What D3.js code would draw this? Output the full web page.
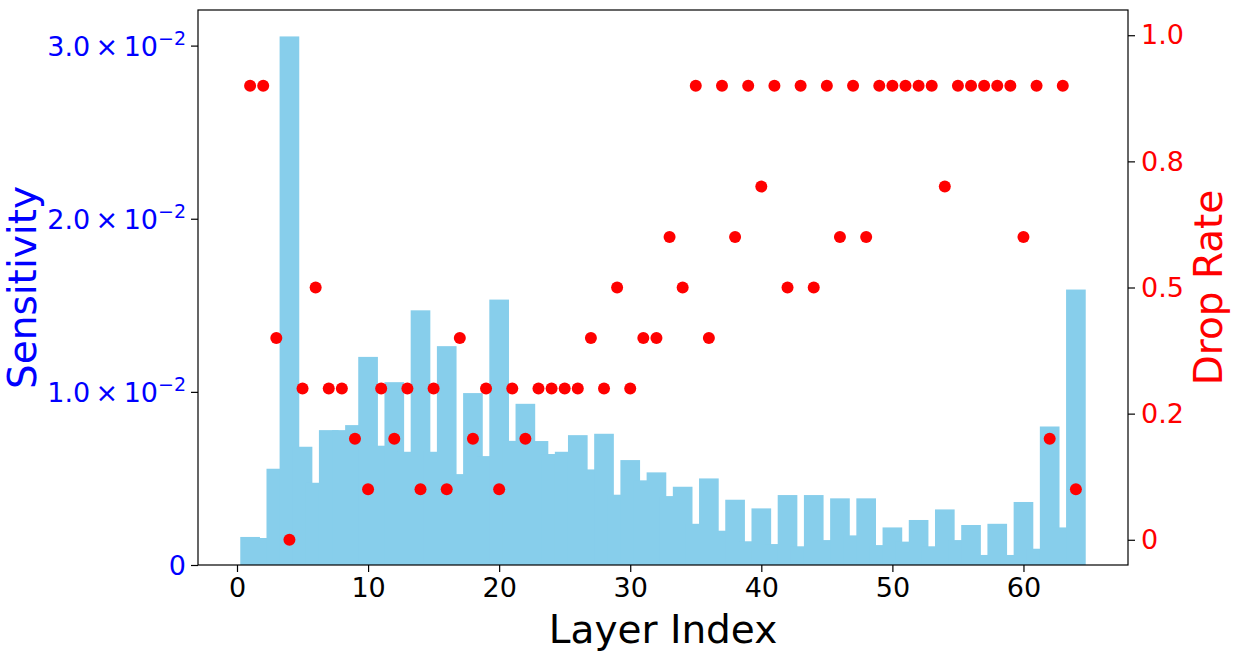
<!DOCTYPE html>
<html>
<head>
<meta charset="utf-8">
<script src="https://cdn.jsdelivr.net/npm/d3@7"></script>
<style>
  html, body { margin: 0; padding: 0; background: #fff; }
  svg { display: block; font-family: "DejaVu Sans", sans-serif; }
</style>
</head>
<body>
<svg id="chart" width="1235" height="659"></svg>
<script>
// Layer indices 1..64
const LAYERS = d3.range(1, 65);

// Sensitivity per layer
const SENSITIVITY = [
  0.00162, 0.00156, 0.00556, 0.03053, 0.00683, 0.00475, 0.00779, 0.00779,
  0.00808, 0.01202, 0.00689, 0.01056, 0.00654, 0.01471, 0.00654, 0.01264,
  0.00525, 0.00993, 0.00629, 0.01533, 0.00717, 0.00931, 0.00716, 0.00641,
  0.00654, 0.00750, 0.00552, 0.00758, 0.00406, 0.00606, 0.00489, 0.00535,
  0.00398, 0.00452, 0.00238, 0.00500, 0.00198, 0.00377, 0.00137, 0.00327,
  0.00121, 0.00404, 0.00108, 0.00404, 0.00144, 0.00385, 0.00171, 0.00385,
  0.00115, 0.00217, 0.00135, 0.00260, 0.00108, 0.00321, 0.00144, 0.00231,
  0.00058, 0.00238, 0.00058, 0.00364, 0.00094, 0.00800, 0.00217, 0.01591
];

// Drop rate per layer
const DROP_RATE = [
  0.9, 0.9, 0.4, 0.0, 0.3, 0.5, 0.3, 0.3,
  0.2, 0.1, 0.3, 0.2, 0.3, 0.1, 0.3, 0.1,
  0.4, 0.2, 0.3, 0.1, 0.3, 0.2, 0.3, 0.3,
  0.3, 0.3, 0.4, 0.3, 0.5, 0.3, 0.4, 0.4,
  0.6, 0.5, 0.9, 0.4, 0.9, 0.6, 0.9, 0.7,
  0.9, 0.5, 0.9, 0.5, 0.9, 0.6, 0.9, 0.6,
  0.9, 0.9, 0.9, 0.9, 0.9, 0.7, 0.9, 0.9,
  0.9, 0.9, 0.9, 0.6, 0.9, 0.2, 0.9, 0.1
];

// Tick values and labels
const X_TICKS = [0, 10, 20, 30, 40, 50, 60];
const LEFT_TICKS = [0, 0.01, 0.02, 0.03];
const LEFT_MANTISSA = ["0", "1.0", "2.0", "3.0"];
const RIGHT_TICKS = [0, 0.25, 0.5, 0.75, 1.0];
const RIGHT_LABELS = ["0", "0.2", "0.5", "0.8", "1.0"];

const BAR_WIDTH = 1.5;   // in layer units, bars overlap
const BAR_COLOR = "#87ceeb";
const DOT_COLOR = "#ff0000";
const SENS_COLOR = "#0000ff";

const plot = { left: 198, right: 1128, top: 10, bottom: 565 };
const tickFont = 27;
const labelFont = 39;

const svg = d3.select("#chart");
svg.append("rect").attr("width", 1235).attr("height", 659).attr("fill", "#fff");

// Scales
const xMin = 1 - BAR_WIDTH / 2, xMax = 64 + BAR_WIDTH / 2;
const xPad = (xMax - xMin) * 0.05;
const x = d3.scaleLinear()
  .domain([xMin - xPad, xMax + xPad])
  .range([plot.left, plot.right]);

const yLeft = d3.scaleLinear()
  .domain([0, d3.max(SENSITIVITY) * 1.05])
  .range([plot.bottom, plot.top]);

const yRight = d3.scaleLinear()
  .domain([-0.05, 1.05])
  .range([plot.bottom, plot.top]);

// Bars (drawn in order, same colour, so the outline is the union)
svg.append("g")
  .selectAll("rect")
  .data(LAYERS)
  .join("rect")
  .attr("x", (d) => x(d - BAR_WIDTH / 2))
  .attr("width", (d) => x(d + BAR_WIDTH / 2) - x(d - BAR_WIDTH / 2))
  .attr("y", (d, i) => yLeft(SENSITIVITY[i]))
  .attr("height", (d, i) => yLeft(0) - yLeft(SENSITIVITY[i]))
  .attr("fill", BAR_COLOR);

// Drop-rate dots
svg.append("g")
  .selectAll("circle")
  .data(LAYERS)
  .join("circle")
  .attr("cx", (d) => x(d))
  .attr("cy", (d, i) => yRight(DROP_RATE[i]))
  .attr("r", 6)
  .attr("fill", DOT_COLOR);

// Frame
svg.append("rect")
  .attr("x", plot.left)
  .attr("y", plot.top)
  .attr("width", plot.right - plot.left)
  .attr("height", plot.bottom - plot.top)
  .attr("fill", "none")
  .attr("stroke", "#000")
  .attr("stroke-width", 1.2);

// Bottom axis
const xAxis = svg.append("g")
  .attr("transform", `translate(0,${plot.bottom})`)
  .call(d3.axisBottom(x).tickValues(X_TICKS).tickFormat(d3.format("d")).tickSize(7).tickPadding(6))
  .call((g) => g.select(".domain").remove());
xAxis.selectAll(".tick line").attr("stroke", "#000").attr("stroke-width", 1.2);
xAxis.selectAll(".tick text")
  .attr("fill", "#000")
  .attr("font-size", tickFont)
  .attr("font-family", "DejaVu Sans");

// Left axis, mathtext-like labels
const leftAxis = svg.append("g")
  .attr("transform", `translate(${plot.left},0)`)
  .call(d3.axisLeft(yLeft).tickValues(LEFT_TICKS).tickFormat("").tickSize(7))
  .call((g) => g.select(".domain").remove());
leftAxis.selectAll(".tick line").attr("stroke", "#000").attr("stroke-width", 1.2);
leftAxis.selectAll(".tick").each(function (d, i) {
  const t = d3.select(this).append("text")
    .attr("x", -12)
    .attr("dy", "0.35em")
    .attr("text-anchor", "end")
    .attr("fill", SENS_COLOR)
    .attr("font-size", tickFont)
    .attr("font-family", "DejaVu Sans");
  if (d === 0) {
    t.text(LEFT_MANTISSA[i]);
  } else {
    t.append("tspan").text(LEFT_MANTISSA[i] + "\u2009\u00d7\u200910");
    t.append("tspan")
      .attr("dy", -11)
      .attr("font-size", 19)
      .text("\u22122");
  }
});

// Right axis
const rightAxis = svg.append("g")
  .attr("transform", `translate(${plot.right},0)`)
  .call(d3.axisRight(yRight).tickValues(RIGHT_TICKS)
    .tickFormat((d, i) => RIGHT_LABELS[i]).tickSize(7).tickPadding(6))
  .call((g) => g.select(".domain").remove());
rightAxis.selectAll(".tick line").attr("stroke", "#000").attr("stroke-width", 1.2);
rightAxis.selectAll(".tick text")
  .attr("fill", DOT_COLOR)
  .attr("font-size", tickFont)
  .attr("font-family", "DejaVu Sans");

// Axis titles
const midY = (plot.top + plot.bottom) / 2;
svg.append("text")
  .attr("x", (plot.left + plot.right) / 2)
  .attr("y", 643)
  .attr("text-anchor", "middle")
  .attr("font-size", labelFont)
  .attr("fill", "#000")
  .text("Layer Index");

svg.append("text")
  .attr("transform", `translate(36,${midY}) rotate(-90)`)
  .attr("text-anchor", "middle")
  .attr("font-size", labelFont)
  .attr("fill", SENS_COLOR)
  .text("Sensitivity");

svg.append("text")
  .attr("transform", `translate(1222,${midY}) rotate(-90)`)
  .attr("text-anchor", "middle")
  .attr("font-size", labelFont)
  .attr("fill", DOT_COLOR)
  .text("Drop Rate");
</script>
</body>
</html>
